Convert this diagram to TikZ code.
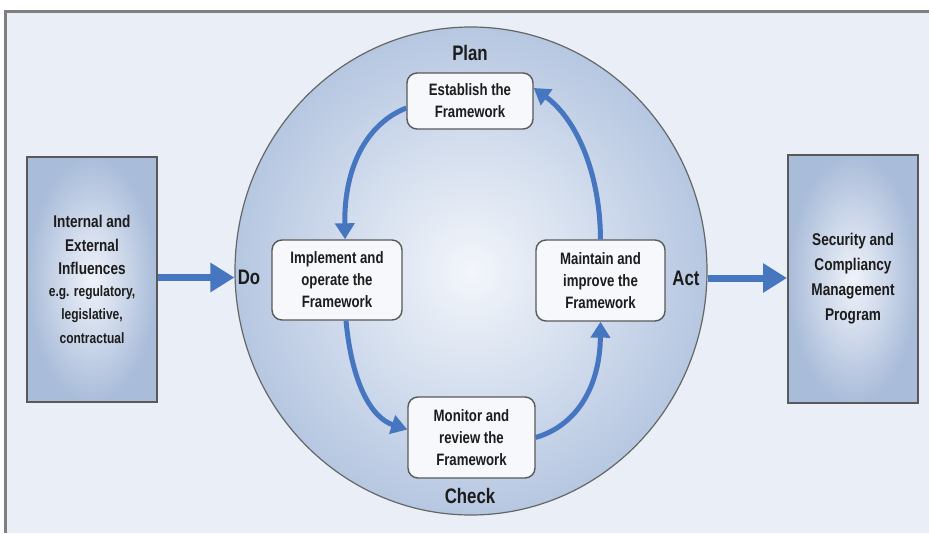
\documentclass[tikz,border=0pt]{standalone}
\usepackage{fontspec}
\newfontfamily\cf[FakeStretch=0.8]{Liberation Sans}
\usetikzlibrary{arrows.meta,shapes.geometric,calc}
\definecolor{bg}{HTML}{E9EEF7}
\definecolor{frameg}{HTML}{7F7F7F}
\definecolor{arr}{HTML}{4676C0}
\definecolor{boxedge}{HTML}{A9BCD9}
\definecolor{boxin}{HTML}{F0F3FA}
\definecolor{circedge}{HTML}{B6C7E1}
\definecolor{circin}{HTML}{F3F6FB}
\definecolor{txt}{HTML}{1C1C1C}
\definecolor{stepfill}{HTML}{F6F8FC}
\newcommand{\smalltx}{\fontsize{15}{21}\selectfont}
\begin{document}
\begin{tikzpicture}[x=1pt,y=-1pt,
  stepbox/.style={draw=black!65,line width=1.4pt,rounded corners=10pt,fill=stepfill,
    align=center,text=txt,font=\cf\bfseries\fontsize{16.5}{22}\selectfont,inner sep=0pt},
  sidebox/.style={draw=black!65,line width=2pt,inner color=boxin,outer color=boxedge,
    align=center,text=txt,minimum width=130pt,inner sep=0pt,font=\cf\bfseries\fontsize{17}{23.5}\selectfont},
  cyc/.style={arr,line width=5pt,-{Triangle[length=16pt,width=19pt]}},
  big/.style={arr,line width=7pt,-{Triangle[length=24pt,width=28pt]}},
  lab/.style={text=txt,font=\cf\bfseries\fontsize{21}{24}\selectfont,inner sep=0pt}
]
\useasboundingbox (0,0) rectangle (929,533);
\fill[white] (0,0) rectangle (929,533);
\fill[bg] (5,11) rectangle (929,533);
\draw[frameg,line width=3pt] (5,533) -- (5,11) -- (929,11);

% central circle
\node[ellipse,draw=black!60,line width=1.2pt,inner color=circin,outer color=circedge,
  minimum width=472pt,minimum height=488pt,inner sep=0pt] (circ) at (471,271) {};

% side boxes
\node[sidebox,minimum height=245pt] (lbox) at (92,279.5)
  {Internal and\\External\\Influences\\[-2pt]\smalltx e.g. regulatory,\\\smalltx legislative,\\\smalltx contractual};
\node[sidebox,minimum height=248pt,font=\cf\bfseries\fontsize{17}{25}\selectfont] (rbox) at (853,279)
  {Security and\\Compliancy\\Management\\Program};

% step boxes
\node[stepbox,minimum width=126pt,minimum height=56pt] (est) at (470,101) {Establish the\\Framework};
\node[stepbox,minimum width=130pt,minimum height=80pt] (imp) at (337,280) {Implement and\\operate the\\Framework};
\node[stepbox,minimum width=129pt,minimum height=81pt] (mai) at (600.5,280.5) {Maintain and\\improve the\\Framework};
\node[stepbox,minimum width=127pt,minimum height=81pt] (mon) at (471.5,437.5) {Monitor and\\review the\\Framework};

% cycle arrows
\draw[cyc] ($(est.west)+(0,7)$) .. controls (366,124) and (344,168) .. ($(imp.north)+(8,0)$);
\draw[cyc] ($(imp.south)+(9,0)$) .. controls (352,385) and (372,418) .. ($(mon.west)+(0,-8)$);
\draw[cyc] (mon.east) .. controls (578,425) and (600,385) .. (mai.south);
\draw[cyc] (mai.north) .. controls (600,170) and (575,118) .. ($(est.east)+(0,-13)$);

% big arrows
\draw[big] ($(lbox.east)+(0,-2)$) -- ($(lbox.east -| circ.west)+(0,-2)$);
\draw[big] ($(rbox.west -| circ.east)+(0,-1)$) -- ($(rbox.west)+(0,-1)$);

% PDCA labels
\node[lab] (plan) at (470,53) {Plan};
\node[lab] (do) at (249,277) {Do};
\node[lab] (act) at (686,278) {Act};
\node[lab] (check) at (470,496) {Check};
\end{tikzpicture}
\end{document}
